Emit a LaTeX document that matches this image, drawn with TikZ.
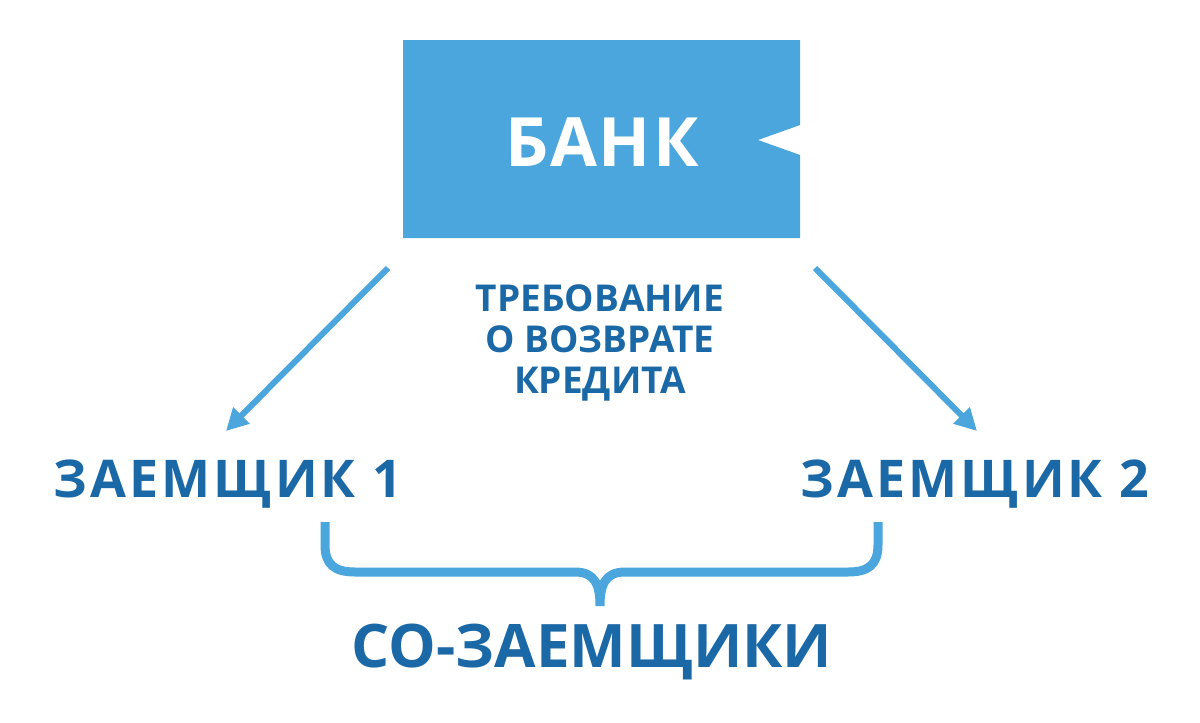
\documentclass[tikz,border=0pt]{standalone}
\usepackage{fontspec}
\setmainfont{Open Sans}
\usetikzlibrary{arrows.meta}
\definecolor{lb}{HTML}{4AA6DC}
\definecolor{db}{HTML}{1A68A6}
\tikzset{lbl/.style={text=db,font=\bfseries,inner sep=0pt},
 arr/.style={draw=lb,line width=6pt,-{Triangle[length=22pt,width=22pt]}}}
\begin{document}
\begin{tikzpicture}[x=1pt,y=-1pt]
\useasboundingbox (0,0) rectangle (1200,723);
\fill[lb] (403,40) -- (800,40) -- (800,125) -- (758,140) -- (800,155) -- (800,238) -- (403,238) -- cycle;
\node[lbl,text=white,font=\fontsize{68}{68}\selectfont\bfseries\addfontfeatures{LetterSpace=3}] (bank) at (602,142) {БАНК};
\coordinate (a1) at (388,268); \coordinate (a2) at (226,431);
\coordinate (b1) at (815,268); \coordinate (b2) at (977,431);
\draw[arr] (a1) -- (a2);
\draw[arr] (b1) -- (b2);
\node[lbl,align=center,font=\fontsize{37}{41}\selectfont\bfseries] (req) at (600,343) {ТРЕБОВАНИЕ\\О ВОЗВРАТЕ\\КРЕДИТА};
\node[lbl,font=\fontsize{52}{52}\selectfont\bfseries\addfontfeatures{LetterSpace=6}] (z1) at (228,484) {ЗАЕМЩИК 1};
\node[lbl,font=\fontsize{52}{52}\selectfont\bfseries\addfontfeatures{LetterSpace=6}] (z2) at (975,484) {ЗАЕМЩИК 2};
\draw[lb,line width=9pt] (325,522) -- (325,545) .. controls (325,565) and (335,572) .. (355,572) -- (575,572) .. controls (595,572) and (600,585) .. (600,606)
  .. controls (600,585) and (605,572) .. (625,572) -- (848,572) .. controls (868,572) and (878,565) .. (878,545) -- (878,522);
\node[lbl,font=\fontsize{60}{60}\selectfont\bfseries] (co) at (592,652) {СО-ЗАЕМЩИКИ};
\end{tikzpicture}
\end{document}
